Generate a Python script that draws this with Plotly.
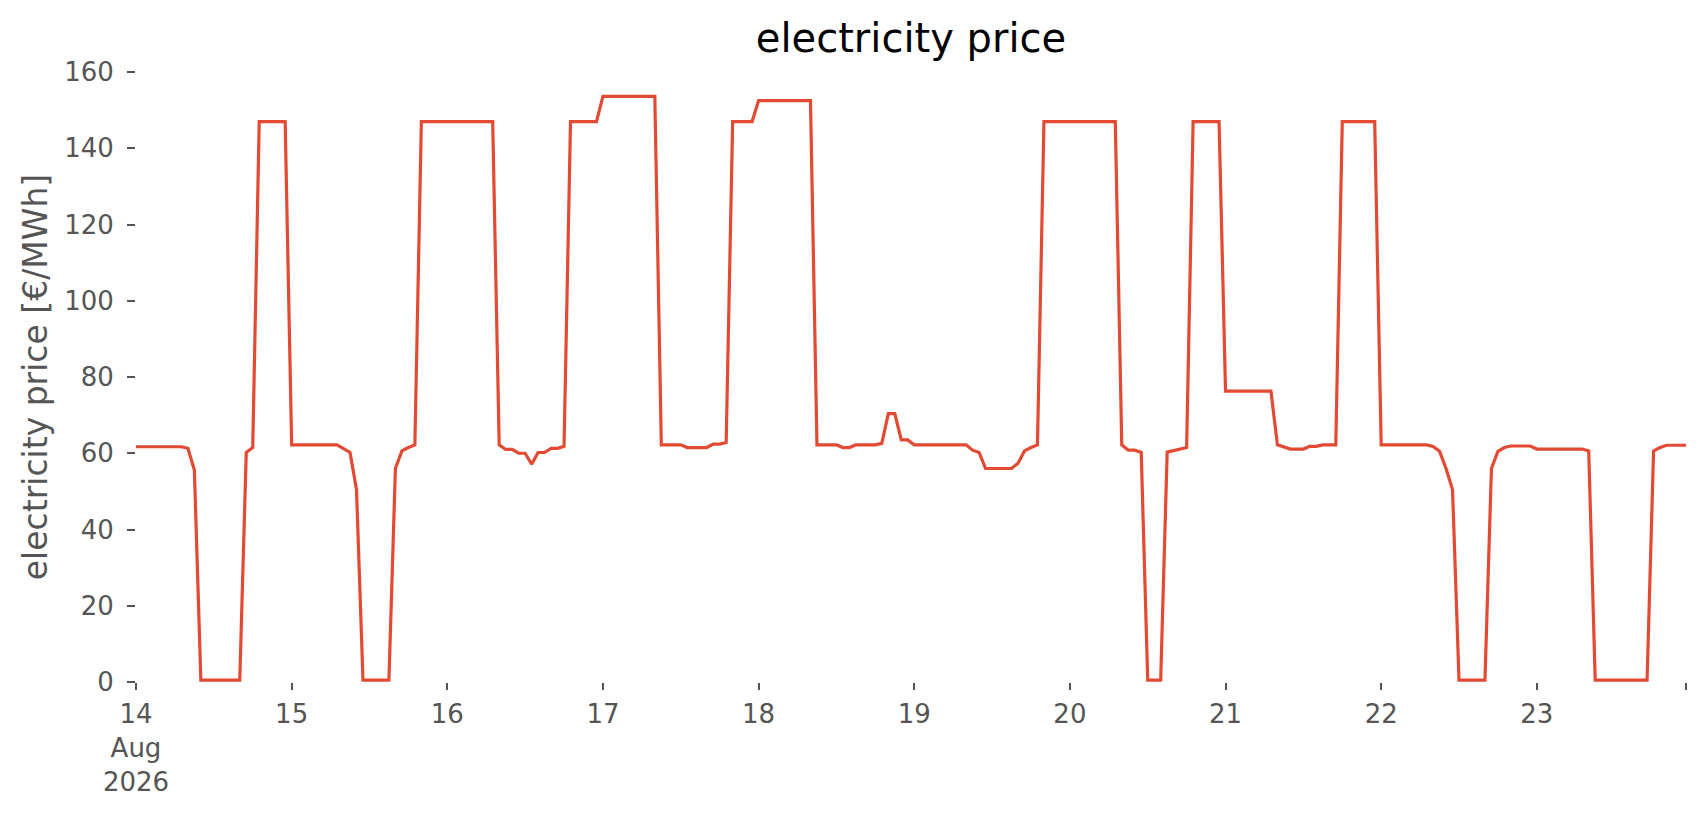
"""Hourly electricity price, 14-23 Aug 2026."""

import pandas as pd
import plotly.graph_objects as go

###################################################################################################
###################################################################################################

START = "2026-08-14 00:00"

# hourly prices [EUR/MWh], one row per day (24 values each)
price_14 = [61.7, 61.7, 61.7, 61.7, 61.7, 61.7, 61.7, 61.7, 61.3, 55.6, 0.5, 0.5,
            0.5, 0.5, 0.5, 0.5, 0.5, 60.2, 61.5, 147.0, 147.0, 147.0, 147.0, 147.0]
price_15 = [62.2, 62.2, 62.2, 62.2, 62.2, 62.2, 62.2, 62.2, 61.2, 60.2, 50.5, 0.5,
            0.5, 0.5, 0.5, 0.5, 56.0, 60.6, 61.5, 62.2, 147.0, 147.0, 147.0, 147.0]
price_16 = [147.0, 147.0, 147.0, 147.0, 147.0, 147.0, 147.0, 147.0, 62.2, 61.0, 61.0, 60.0,
            60.0, 57.1, 60.2, 60.2, 61.3, 61.3, 61.8, 147.0, 147.0, 147.0, 147.0, 147.0]
price_17 = [153.6, 153.6, 153.6, 153.6, 153.6, 153.6, 153.6, 153.6, 153.6, 62.2, 62.2, 62.2,
            62.2, 61.5, 61.5, 61.5, 61.5, 62.4, 62.4, 62.8, 147.0, 147.0, 147.0, 147.0]
price_18 = [152.5, 152.5, 152.5, 152.5, 152.5, 152.5, 152.5, 152.5, 152.5, 62.2, 62.2, 62.2,
            62.2, 61.5, 61.5, 62.2, 62.2, 62.2, 62.2, 62.6, 70.4, 70.4, 63.5, 63.5]
price_19 = [62.2, 62.2, 62.2, 62.2, 62.2, 62.2, 62.2, 62.2, 62.2, 60.8, 60.2, 56.0,
            56.0, 56.0, 56.0, 56.0, 57.4, 60.6, 61.5, 62.2, 147.0, 147.0, 147.0, 147.0]
price_20 = [147.0, 147.0, 147.0, 147.0, 147.0, 147.0, 147.0, 147.0, 62.2, 60.8, 60.8, 60.2,
            0.5, 0.5, 0.5, 60.3, 60.7, 60.9, 61.5, 147.0, 147.0, 147.0, 147.0, 147.0]
price_21 = [76.3, 76.3, 76.3, 76.3, 76.3, 76.3, 76.3, 76.3, 62.2, 61.6, 61.1, 61.1,
            61.1, 61.8, 61.8, 62.2, 62.2, 62.2, 147.0, 147.0, 147.0, 147.0, 147.0, 147.0]
price_22 = [62.2, 62.2, 62.2, 62.2, 62.2, 62.2, 62.2, 62.2, 61.8, 60.5, 56.0, 50.5,
            0.5, 0.5, 0.5, 0.5, 0.5, 56.0, 60.5, 61.5, 61.9, 61.9, 61.9, 61.9]
price_23 = [61.1, 61.1, 61.1, 61.1, 61.1, 61.1, 61.1, 61.1, 60.6, 0.5, 0.5, 0.5,
            0.5, 0.5, 0.5, 0.5, 0.5, 0.5, 60.6, 61.5, 62.1, 62.1, 62.1, 62.1]

prices = (price_14 + price_15 + price_16 + price_17 + price_18
          + price_19 + price_20 + price_21 + price_22 + price_23)
times = pd.date_range(START, periods=len(prices), freq="h")

day_labels = ["14<br>Aug<br>2026", "15", "16", "17", "18", "19", "20", "21", "22", "23"]
y_ticks = [0, 20, 40, 60, 80, 100, 120, 140, 160]

###################################################################################################
###################################################################################################

LINE_COLOR = "#E24A33"
TICK_COLOR = "#555555"
FONT = "DejaVu Sans"

# the page body adds an 8px offset, margins below account for it
tick_vals = list(times[::24]) + [times[-1]]
tick_text = day_labels + [""]

fig = go.Figure()
fig.add_trace(go.Scatter(x=times, y=prices, mode="lines",
                         line=dict(color=LINE_COLOR, width=3.2), showlegend=False))

fig.update_layout(
    width=1706, height=815,
    margin=dict(l=128, r=28, t=64, b=141),
    paper_bgcolor="white", plot_bgcolor="white",
    font=dict(family=FONT, size=26, color=TICK_COLOR),
    title=dict(text="electricity price", x=0.5, xanchor="center", xref="paper",
               y=1 - 30 / 815, yanchor="middle", font=dict(size=40, color="black")),
)

fig.update_xaxes(range=[times[0], times[-1]], tickmode="array", tickvals=tick_vals,
                 ticktext=tick_text, ticks="outside", ticklen=7, tickwidth=2,
                 tickcolor=TICK_COLOR, ticklabelstandoff=2,
                 showgrid=False, zeroline=False, showline=False,
                 tickfont=dict(size=26, color=TICK_COLOR))
fig.update_yaxes(range=[0, 160], tickmode="array", tickvals=y_ticks,
                 ticks="outside", ticklen=8, tickwidth=2, tickcolor=TICK_COLOR,
                 ticklabelstandoff=8, showgrid=False, zeroline=False, showline=False,
                 tickfont=dict(size=26, color=TICK_COLOR),
                 title=dict(text="electricity price [€/MWh]", standoff=6,
                            font=dict(size=33, color=TICK_COLOR)))

fig.write_html("out.html")
